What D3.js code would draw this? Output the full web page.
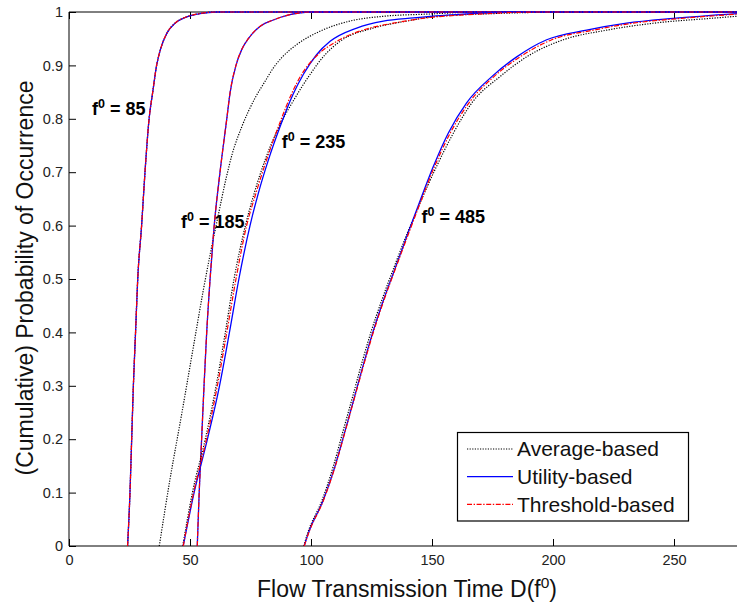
<!DOCTYPE html>
<html>
<head>
<meta charset="utf-8">
<script src="https://cdn.jsdelivr.net/npm/d3@7"></script>
<style>
  html, body { margin: 0; padding: 0; background: #fff; }
  svg { display: block; font-family: "Liberation Sans", Arial, sans-serif; }
</style>
</head>
<body>
<svg id="chart" width="737" height="605"></svg>
<script>
// ---- data: [flow time, cumulative probability] ----
const xTicks = [0, 50, 100, 150, 200, 250];
const yTicks = [0, 0.1, 0.2, 0.3, 0.4, 0.5, 0.6, 0.7, 0.8, 0.9, 1];
const methods = ["Average-based", "Utility-based", "Threshold-based"];
const groupLabels = ["85", "185", "235", "485"];

const avg85 = [[24.2,0],[25.2,0.1],[25.9,0.2],[26.6,0.3],[27.5,0.4],[28.4,0.5],[30.0,0.6],[31.4,0.7],[33.1,0.8],[34.6,0.85],[36.2,0.9],[37.8,0.93],[40.4,0.96],[43.8,0.979],[48.7,0.991],[54.1,0.997],[61,1],[276,1]];
const util85 = [[24.2,0],[25.2,0.1],[25.9,0.2],[26.6,0.3],[27.5,0.4],[28.4,0.5],[30.0,0.6],[31.4,0.7],[33.1,0.8],[34.6,0.85],[36.2,0.9],[37.8,0.93],[40.4,0.96],[43.8,0.979],[48.7,0.991],[54.1,0.997],[61,1],[276,1]];
const thr85 = [[24.2,0],[25.2,0.1],[25.9,0.2],[26.6,0.3],[27.5,0.4],[28.4,0.5],[30.0,0.6],[31.4,0.7],[33.1,0.8],[34.6,0.85],[36.2,0.9],[37.8,0.93],[40.4,0.96],[43.8,0.979],[48.7,0.991],[54.1,0.997],[61,1],[276,1]];

const avg185 = [[37.3,0],[41.7,0.124],[46.6,0.248],[51.4,0.373],[55.5,0.479],[58.5,0.55],[61.7,0.62],[65.0,0.69],[67.5,0.735],[71.4,0.785],[76.9,0.839],[81,0.87],[84.4,0.895],[88,0.915],[94.1,0.939],[103.7,0.964],[116.1,0.983],[129.9,0.992],[147.8,0.996],[170,1],[276,1]];
const util185 = [[53.0,0],[53.8,0.1],[54.8,0.2],[55.8,0.3],[56.9,0.4],[58.3,0.5],[60.0,0.6],[62.4,0.7],[65.2,0.8],[66.6,0.85],[69.0,0.9],[71.4,0.93],[74.1,0.95],[78.9,0.973],[84.4,0.985],[91.3,0.995],[99.6,1],[276,1]];
const thr185 = [[53.0,0],[53.8,0.1],[54.8,0.2],[55.8,0.3],[56.9,0.4],[58.3,0.5],[60.0,0.6],[62.4,0.7],[65.2,0.8],[66.6,0.85],[69.0,0.9],[71.4,0.93],[74.1,0.95],[78.9,0.973],[84.4,0.985],[91.3,0.995],[99.6,1],[276,1]];

const avg235 = [[47.0,0],[51.0,0.1],[56.3,0.2],[60.8,0.3],[64.6,0.4],[68.2,0.5],[72.9,0.6],[76.5,0.66],[80.8,0.72],[86.8,0.785],[93.4,0.839],[99.6,0.883],[105.8,0.92],[112,0.945],[125.8,0.97],[139.5,0.983],[152,0.992],[175,0.997],[210,1],[276,1]];
const util235 = [[47.2,0],[51.7,0.1],[57.2,0.2],[62.2,0.3],[66.3,0.4],[70.2,0.5],[74.8,0.6],[78.2,0.66],[82.4,0.723],[87.2,0.785],[92.5,0.845],[96.8,0.883],[102.3,0.92],[107.9,0.945],[118.9,0.97],[129.9,0.983],[142.3,0.989],[160,0.995],[185,1],[276,1]];
const thr235 = [[47.2,0],[51.5,0.1],[56.8,0.2],[61.3,0.3],[65.2,0.4],[69.0,0.5],[73.4,0.6],[77.2,0.66],[81.4,0.72],[86.5,0.785],[92.3,0.85],[96.1,0.883],[102.8,0.92],[110.6,0.945],[124.4,0.97],[134,0.979],[147.8,0.989],[165,0.995],[195,1],[276,1]];

const avg485 = [[97.0,0],[98.6,0.024],[104.6,0.086],[109.2,0.149],[113.0,0.211],[116.8,0.273],[120.6,0.336],[124.6,0.398],[129.3,0.461],[134.4,0.523],[139.8,0.586],[145.6,0.648],[151.8,0.71],[158.8,0.773],[166.5,0.83],[178.1,0.879],[189.1,0.916],[204.3,0.948],[222.2,0.966],[241.5,0.979],[264.9,0.988],[276,0.992]];
const util485 = [[97.2,0],[98.9,0.024],[105.1,0.086],[109.9,0.149],[113.8,0.211],[117.6,0.273],[121.4,0.336],[125.4,0.398],[130.0,0.461],[135.0,0.523],[140.1,0.586],[145.2,0.648],[150.5,0.71],[156.7,0.773],[164.3,0.83],[174.7,0.879],[185,0.916],[197.4,0.948],[213.9,0.966],[230.4,0.979],[249.7,0.988],[276,0.997]];
const thr485 = [[97.2,0],[99.0,0.024],[105.2,0.086],[110.0,0.149],[113.9,0.211],[117.7,0.273],[121.6,0.336],[125.6,0.398],[130.2,0.461],[135.2,0.523],[140.4,0.586],[145.6,0.648],[151.0,0.71],[157.5,0.773],[165.3,0.83],[175.6,0.879],[186.4,0.916],[199.5,0.948],[216.7,0.966],[233,0.979],[253,0.988],[276,0.996]];

// label anchor points (data coords)
const labelPos = [[9.5,0.807],[46.3,0.595],[87.9,0.745],[145.7,0.604]];

// ---- drawing ----
const svg = d3.select("#chart");
const L = 69, T = 12, B = 546, R = 737;
const x = d3.scaleLinear().domain([0, 277]).range([L, L + 277 * 2.42]);
const y = d3.scaleLinear().domain([0, 1]).range([B, T]);

const styles = [
  { stroke: "#000", width: 1.2, dash: "1.2,1.4" },
  { stroke: "#0000ff", width: 1.3, dash: null },
  { stroke: "#ff0000", width: 1.2, dash: "5,1.6,1.4,1.6" }
];
const series = [
  [avg85, util85, thr85],
  [avg185, util185, thr185],
  [avg235, util235, thr235],
  [avg485, util485, thr485]
];

svg.append("defs").append("clipPath").attr("id", "clip")
  .append("rect").attr("x", L).attr("y", T - 3).attr("width", R - L).attr("height", B - T + 3);

// frame
svg.append("line").attr("x1", L).attr("x2", R).attr("y1", B).attr("y2", B).attr("stroke", "#000");
svg.append("line").attr("x1", L).attr("x2", R).attr("y1", T).attr("y2", T).attr("stroke", "#000");
svg.append("line").attr("x1", L).attr("x2", L).attr("y1", T).attr("y2", B).attr("stroke", "#000");

// axes via d3
const xAxis = d3.axisBottom(x).tickValues(xTicks).tickSize(-7).tickPadding(9).tickFormat(d3.format("d"));
const gx = svg.append("g").attr("transform", `translate(0,${B})`).call(xAxis);
gx.select(".domain").remove();
const xTop = d3.axisTop(x).tickValues(xTicks).tickSize(-7).tickFormat("");
const gxt = svg.append("g").attr("transform", `translate(0,${T})`).call(xTop);
gxt.select(".domain").remove();
const yAxis = d3.axisLeft(y).tickValues(yTicks).tickSize(-7).tickPadding(6).tickFormat(d => d === 0 || d === 1 ? String(d) : d3.format(".1f")(d));
const gy = svg.append("g").attr("transform", `translate(${L},0)`).call(yAxis);
gy.select(".domain").remove();
svg.selectAll(".tick line").attr("stroke", "#000");
svg.selectAll(".tick text").attr("font-family", "Liberation Sans, Arial, sans-serif")
  .attr("font-size", 14.5).attr("fill", "#222");

// curves
const line = d3.line().x(d => x(d[0])).y(d => y(d[1])).curve(d3.curveMonotoneX);
const plot = svg.append("g").attr("clip-path", "url(#clip)");
series.forEach(group => {
  group.forEach((data, m) => {
    const s = styles[m];
    plot.append("path").datum(data)
      .attr("d", line)
      .attr("fill", "none")
      .attr("stroke", s.stroke)
      .attr("stroke-width", s.width)
      .attr("stroke-dasharray", s.dash);
  });
});

// group labels
groupLabels.forEach((g, i) => {
  const t = svg.append("text")
    .attr("x", x(labelPos[i][0])).attr("y", y(labelPos[i][1]))
    .attr("font-size", 18).attr("font-weight", "bold").attr("fill", "#000");
  t.append("tspan").text("f");
  t.append("tspan").attr("font-size", 12.5).attr("dy", -7).text("0");
  t.append("tspan").attr("dy", 7).text(" = " + g);
});

// axis titles
const xl = svg.append("text").attr("x", 407).attr("y", 597).attr("text-anchor", "middle")
  .attr("font-size", 23).attr("fill", "#111");
xl.append("tspan").text("Flow Transmission Time D(f");
xl.append("tspan").attr("font-size", 15.5).attr("dy", -9).text("0");
xl.append("tspan").attr("dy", 9).text(")");

svg.append("text").attr("transform", "translate(33,278) rotate(-90)")
  .attr("text-anchor", "middle").attr("font-size", 23).attr("fill", "#111")
  .text("(Cumulative) Probability of Occurrence");

// legend
const lg = svg.append("g");
lg.append("rect").attr("x", 457.5).attr("y", 432.5).attr("width", 231).attr("height", 88.5)
  .attr("fill", "#fff").attr("stroke", "#000").attr("stroke-width", 1.2);
const rowY = [449, 476.7, 504.3];
methods.forEach((name, i) => {
  const s = styles[i];
  lg.append("line").attr("x1", 467).attr("x2", 513).attr("y1", rowY[i]).attr("y2", rowY[i])
    .attr("stroke", s.stroke).attr("stroke-width", s.width).attr("stroke-dasharray", s.dash);
  lg.append("text").attr("x", 517).attr("y", rowY[i] + 7.3).attr("font-size", 21).attr("fill", "#111").text(name);
});
</script>
</body>
</html>
